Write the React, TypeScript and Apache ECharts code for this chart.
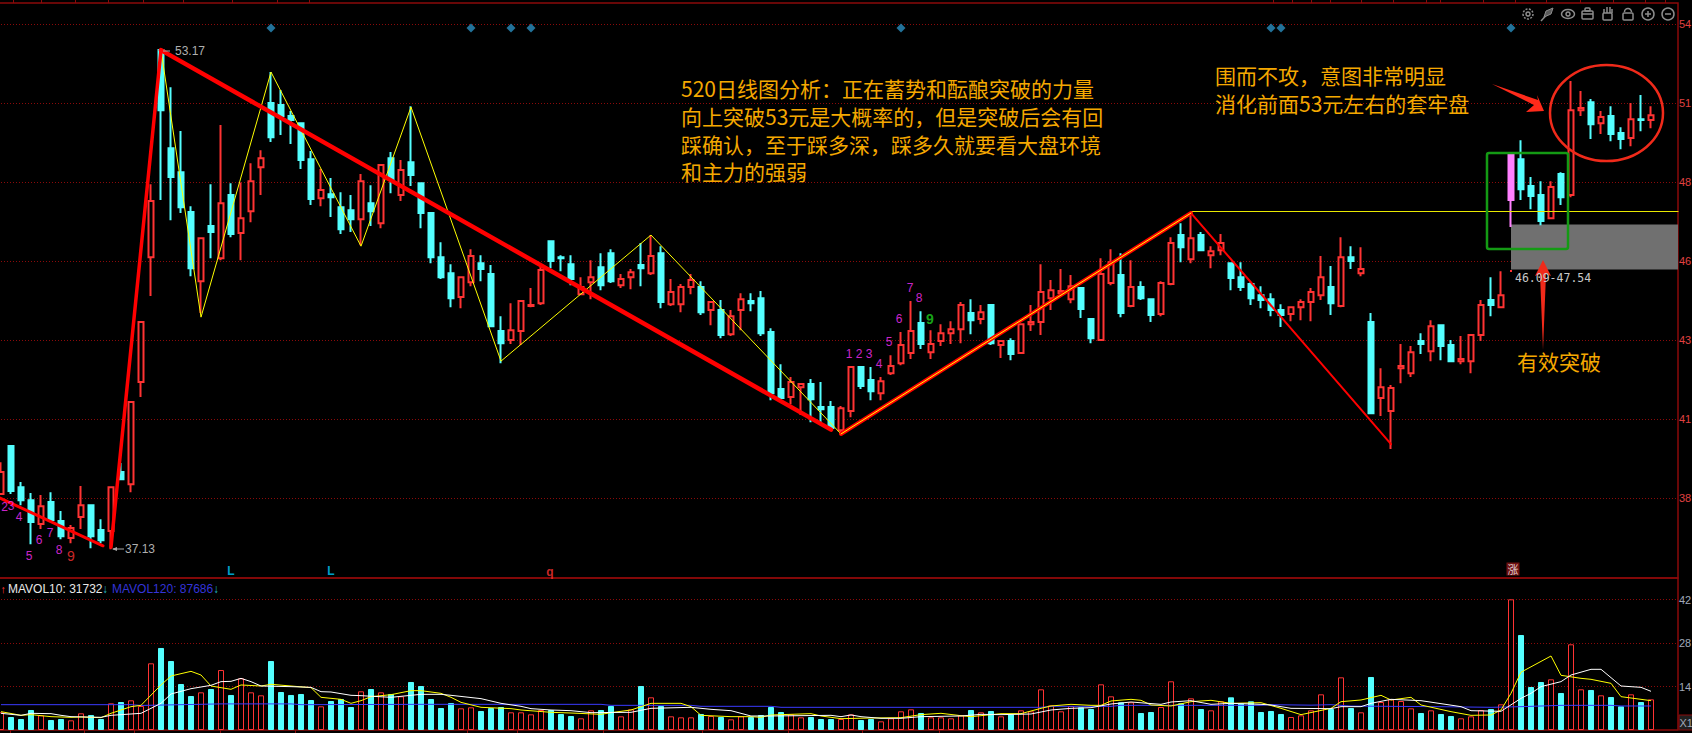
import React, { useEffect, useRef } from "react";
import * as echarts from "echarts";

// open, close, low, high per trading day
const candles: number[][] = [
  [38.84,39.55,38.84,39.87],[40.39,38.94,38.84,40.39],[39.06,38.64,38.48,39.23],[38.64,37.94,37.22,38.87],[37.87,38.45,37.71,38.81],
  [38.58,38.00,38.00,38.90],[37.97,37.48,37.38,38.29],[37.42,37.74,37.25,37.84],[38.10,38.48,37.71,39.10],[38.48,37.48,37.09,38.48],
  [37.68,37.35,37.25,38.03],[37.65,39.06,37.06,39.06],[39.55,39.32,39.29,39.84],[39.16,41.81,38.90,41.81],[42.46,44.39,41.97,44.39],
  [46.48,48.30,45.23,48.84],[53.17,51.23,48.33,53.17],[50.00,49.07,47.68,51.97],[49.23,48.10,47.91,50.56],[47.94,46.13,45.87,48.13],
  [45.71,47.10,44.68,47.10],[47.49,47.30,46.45,48.84],[46.45,48.23,46.39,50.75],[48.49,47.23,47.13,48.87],[47.27,47.74,46.39,48.90],
  [47.97,48.94,47.61,49.52],[49.39,49.68,48.49,49.94],[51.46,50.36,50.20,52.46],[51.40,51.04,50.43,51.88],[51.04,50.91,50.14,51.20],
  [50.81,49.62,49.33,50.81],[49.65,48.36,48.17,49.91],[48.39,48.65,48.13,49.33],[48.52,48.42,47.78,49.04],[48.10,47.39,47.23,48.58],
  [48.00,47.71,47.30,48.49],[47.71,48.94,46.87,49.17],[48.23,47.97,47.49,48.81],[47.58,49.46,47.42,49.46],[49.68,49.00,48.55,49.88],
  [48.49,49.30,48.30,49.62],[49.55,49.14,48.78,51.36],[48.87,47.91,47.42,48.87],[47.91,46.48,46.29,47.91],[46.48,45.84,45.78,46.97],
  [45.97,45.16,44.87,46.26],[45.20,45.84,44.84,45.84],[45.68,46.52,45.55,46.74],[46.29,46.10,45.71,46.55],[45.94,44.26,44.23,46.23],
  [44.10,43.71,43.06,44.58],[43.81,44.13,43.68,45.00],[44.10,45.07,43.65,45.07],[44.91,44.94,44.87,45.49],[45.00,46.07,44.94,46.20],
  [47.00,46.36,46.13,47.00],[46.48,46.45,46.03,46.55],[46.26,45.78,45.58,46.55],[45.29,45.52,45.29,45.84],[45.68,45.84,45.13,46.39],
  [46.16,45.58,45.42,46.61],[46.61,45.71,45.65,46.74],[45.58,45.78,45.49,45.94],[45.84,46.00,45.45,46.10],[46.23,46.13,45.55,46.94],
  [45.97,46.52,45.91,47.20],[46.61,45.04,44.84,46.84],[44.97,45.36,44.91,45.78],[44.97,45.52,44.71,45.62],[45.52,45.75,45.29,45.94],
  [45.52,44.71,44.62,45.71],[44.78,45.04,44.29,45.04],[44.78,43.97,43.87,45.10],[44.00,44.58,43.94,44.78],[44.78,45.13,44.13,45.32],
  [45.07,45.00,44.74,45.32],[45.16,44.03,43.94,45.39],[44.07,42.09,41.87,44.19],[42.23,41.94,41.94,43.03],[41.97,42.46,41.74,42.62],
  [42.29,42.39,41.39,42.39],[42.39,41.90,41.16,42.55],[41.65,41.58,41.13,42.46],[41.65,40.97,40.90,41.84],[40.90,41.61,40.80,41.68],
  [41.52,42.94,41.32,42.94],[42.94,42.33,42.23,42.94],[42.52,42.16,41.87,42.94],[42.09,42.48,41.87,42.62],[42.74,42.97,42.68,43.32],
  [43.06,43.65,43.00,44.07],[43.39,44.10,43.20,45.07],[44.36,43.68,43.52,44.74],[43.42,43.68,43.20,44.13],[43.78,44.03,43.62,44.32],
  [44.03,44.16,43.68,44.42],[44.16,44.94,43.71,45.04],[44.68,44.45,44.00,45.13],[44.49,44.71,44.32,44.94],[44.94,43.71,43.65,44.94],
  [43.65,43.78,43.23,43.78],[43.78,43.36,43.16,43.87],[43.39,44.32,43.36,44.32],[44.32,44.39,44.10,44.94],[44.39,45.36,43.97,46.26],
  [45.16,45.42,44.78,45.75],[45.32,45.39,45.26,46.10],[45.13,45.55,45.00,45.91],[45.49,44.81,44.52,45.49],[44.49,43.87,43.71,44.49],
  [43.81,45.94,43.78,46.45],[45.65,46.32,45.58,46.74],[45.91,44.68,44.55,46.61],[44.91,45.52,44.87,46.39],[45.52,45.16,45.10,45.71],
  [45.13,44.62,44.39,45.13],[44.65,45.65,44.58,45.71],[45.62,46.94,45.58,47.13],[47.20,46.81,46.32,47.58],[46.42,47.10,46.29,47.87],
  [47.20,46.71,46.68,47.30],[46.55,46.68,46.13,46.84],[46.71,46.94,46.55,47.23],[46.29,45.81,45.42,46.29],[45.84,45.52,45.39,46.32],
  [45.62,45.16,44.94,45.68],[45.26,45.10,44.84,45.55],[45.13,44.78,44.58,45.32],[44.78,44.62,44.23,44.97],[44.65,44.87,44.42,44.87],
  [44.87,45.04,44.45,45.13],[45.04,45.36,44.42,45.49],[45.26,45.84,45.10,46.52],[45.52,45.00,44.62,46.20],[44.91,46.48,44.87,47.13],
  [46.48,46.36,46.10,46.84],[45.97,46.10,45.87,46.81],[44.39,41.45,41.42,44.68],[41.94,42.29,41.36,42.90],[41.52,42.26,40.29,42.36],
  [42.90,42.97,42.42,43.68],[42.74,43.42,42.62,43.62],[43.78,43.68,43.36,44.03],[43.45,44.26,43.13,44.45],[44.29,43.62,43.16,44.29],
  [43.65,43.13,43.10,43.81],[43.13,43.20,43.03,43.94],[43.13,43.97,42.74,44.00],[43.97,44.94,43.78,45.10],[45.10,44.94,44.58,45.84],
  [44.87,45.26,44.84,46.03],[48.33,49.81,47.46,49.81],[49.65,48.68,48.33,50.26],[48.78,48.46,48.03,49.07],[48.49,47.65,47.52,48.94],
  [47.74,48.75,47.71,48.94],[49.17,48.42,48.17,49.23],[48.49,51.23,48.42,52.17],[51.23,51.30,51.04,51.85],[51.49,50.78,50.30,51.59],
  [50.81,51.01,50.46,51.20],[51.04,50.46,50.23,51.36],[50.49,50.30,49.97,50.68],[50.33,50.94,50.07,51.46],[50.94,50.91,50.55,51.72],
  [50.91,51.07,50.65,51.36],
];
const highlightDay = 151;

const volumes = [
  5.70,4.18,3.54,6.44,4.72,3.22,3.54,3.11,5.37,4.83,3.54,8.58,9.01,9.55,7.73,21.46,26.40,22.20,14.80,10.94,
  12.12,13.20,19.30,11.27,16.63,12.12,11.16,22.20,12.23,11.27,11.59,9.66,7.62,9.33,9.98,7.40,12.45,13.20,12.12,11.59,
  10.84,15.45,14.16,9.98,7.08,8.69,6.97,7.30,6.12,7.08,7.40,5.69,5.69,5.04,6.44,6.44,5.15,4.51,3.76,6.33,
  6.44,7.73,4.40,6.65,14.16,10.52,7.73,4.40,4.08,4.08,5.15,4.51,4.18,3.43,4.40,4.18,4.83,7.40,5.79,5.04,
  4.08,4.18,3.54,3.54,3.54,5.04,3.22,3.54,2.79,3.76,6.01,6.65,5.47,4.08,4.08,3.76,4.72,6.44,5.69,6.12,
  4.40,5.04,6.33,6.01,13.09,7.94,6.01,7.73,7.30,6.76,14.70,10.84,8.91,8.91,5.47,5.79,7.40,15.67,8.58,10.19,
  6.76,6.33,9.23,10.52,8.58,9.23,5.79,6.12,5.15,4.18,4.72,6.33,11.48,6.76,16.95,7.08,5.69,17.06,9.01,9.87,
  9.33,6.97,5.47,6.33,5.15,4.51,3.76,4.40,6.44,6.76,8.26,42.06,30.58,13.84,15.45,16.31,11.91,27.58,13.09,12.88,
  11.16,10.62,7.62,11.48,9.01,9.87,
];

const mavolYellow: number[][] = [
  [0,5.90],[2,4.72],[3,4.94],[5,4.29],[7,4.08],[8,4.18],[10,3.97],[11,5.37],[13,7.51],[14,7.94],[16,14.49],[17,17.38],[19,18.88],[20,17.70],[21,14.16],[23,13.09],[24,14.49],[26,14.16],[27,14.70],[29,14.16],[31,13.63],[32,10.52],[34,9.87],[35,8.58],[36,9.44],[37,10.73],[39,11.37],[41,12.66],[42,12.66],
  [44,11.80],[45,10.52],[46,8.90],[48,7.30],[51,6.87],[52,6.44],[55,5.69],[57,5.47],[60,5.04],[61,5.58],[63,6.44],[65,8.58],[68,8.58],[69,7.51],[70,4.72],[73,4.29],[75,4.29],[76,4.08],[77,4.83],[81,5.26],[82,4.51],[84,3.65],
  [87,3.86],[90,3.97],[92,4.94],[94,5.37],[96,4.61],[97,4.29],[100,5.26],[102,5.26],[104,6.97],[105,7.73],[107,8.26],[109,7.94],[110,7.94],[111,9.34],[113,9.87],[114,9.55],[115,8.05],[117,7.73],[119,9.12],[121,9.55],[123,8.58],[126,8.80],
  [128,6.97],[130,4.94],[133,6.97],[134,9.12],[136,9.66],[138,11.16],[139,9.66],[141,10.52],[142,8.05],[145,5.90],[147,4.72],[149,4.83],[150,6.44],[151,11.80],[152,18.60],[155,23.82],[156,17.60],[158,16.63],[159,16.31],[161,15.02],[162,10.73],[164,9.87],[165,9.44],
];
const mavolWhite: number[][] = [
  [0,5.37],[2,4.72],[3,5.37],[5,5.26],[6,4.72],[7,4.29],[10,4.08],[11,4.72],[14,5.37],[16,8.58],[17,11.59],[19,13.30],[21,14.38],[22,15.56],[23,15.66],[24,16.63],[25,15.56],[26,14.16],[29,13.95],[31,13.73],[32,12.34],[33,12.23],[35,11.16],[36,11.05],[39,10.52],[42,11.48],
  [44,11.48],[45,11.16],[48,10.09],[50,8.58],[52,7.62],[53,6.87],[55,6.44],[57,6.22],[59,5.58],[63,5.69],[65,6.97],[69,7.30],[71,6.65],[73,6.22],[75,4.51],[77,4.51],[83,4.72],[84,4.29],
  [85,4.83],[86,4.29],[88,3.76],[90,3.76],[92,4.29],[96,4.51],[98,5.04],[100,4.94],[103,5.15],[105,6.44],[107,6.97],[109,7.19],[111,8.37],[113,9.01],[116,8.26],[117,9.01],[119,9.44],[121,8.26],[123,8.58],[126,8.26],
  [127,8.05],[129,6.97],[133,6.87],[134,7.51],[136,7.51],[137,8.58],[139,9.87],[142,9.44],[146,7.51],[147,6.22],[150,6.01],[152,10.19],[153,11.80],[154,13.95],[156,15.56],[157,17.70],[159,19.53],[160,19.53],[162,14.16],[164,13.73],[165,12.45],
];
const mavolBlue: number[][] = [
  [0,8.15],[13,8.15],[14,7.90],[22,8.40],[29,8.40],[30,8.15],[42,8.26],[60,8.26],[61,7.94],[69,7.94],[70,7.62],[77,7.62],[78,7.30],[104,7.30],[105,7.62],[111,7.62],[112,7.94],[126,7.94],
  [127,8.15],[131,8.00],[133,8.15],[135,7.70],[144,7.50],[149,7.30],[152,7.51],[156,7.94],[161,7.94],[162,7.73],[165,7.73],
];

const trendA: number[][] = [[-0.1,38.71],[10.2,37.17]];
const trendB: number[][] = [[11,37.13],[16,53.17]];
const trendC: number[][] = [[16,53.17],[83,40.92]];
const trendD: number[][] = [[84,40.78],[119,47.91]];
const trendE: number[][] = [[119,47.91],[139,40.45]];
const breakLine: number[][] = [[119,47.96],[167.7,47.96]];
const zigzag: number[][] = [[16,53.17],[20,44.55],[27,52.46],[36,46.84],[41,51.33],[50,43.13],[65,47.20],[84,40.78],[119,47.91]];

const priceTicks = [54, 51.45, 48.9, 46.35, 43.8, 41.25, 38.7];
const volumeTicks = [14, 28, 42];
const topDateTicks = [1.2,4,7.4,10.7,14.2,18.2,23.1,27.6,30.8,127.2,129.1,131,132.9,136,139.2,142.5,143.9,148.2,151.4,154.5,157.9,161.2,164.4,166.4];
const bottomDateTicks = [0.9,8.3,13.3,21.9,29.4,46.6,51.6,60.2,70.1,78.7,86.1,93.8];

const signalDays = [27, 47, 51, 53, 90, 127, 128, 151];
const signalPrice = 53.88;
const nineTurnMagenta: [number, number, string][] = [
  [0.35,38.41,"2"],[1.0,38.45,"3"],[1.8,38.10,"4"],[2.8,36.84,"5"],[3.8,37.35,"6"],[4.9,37.58,"7"],[5.8,37.03,"8"],
  [84.8,43.36,"1"],[85.8,43.36,"2"],[86.8,43.36,"3"],[87.8,43.03,"4"],[88.8,43.74,"5"],[89.8,44.49,"6"],[90.9,45.49,"7"],[91.8,45.16,"8"],
];
const nineRed: [number, number, string][] = [[7,36.84,"9"]];
const nineGreen: [number, number, string][] = [[92.9,44.49,"9"]];
const lMarks: [number, number, string][] = [[23,36.35,"L"],[33,36.35,"L"]];
const qMarks: [number, number, string][] = [[54.9,36.32,"q"]];
const riseMarks: [number, number, string][] = [[151.2,36.42,"涨"]];

const commentLines = [
  "520日线图分析：正在蓄势和酝酿突破的力量",
  "向上突破53元是大概率的，但是突破后会有回",
  "踩确认，至于踩多深，踩多久就要看大盘环境",
  "和主力的强弱",
];
const sideLines = ["围而不攻，意图非常明显", "消化前面53元左右的套牢盘"];

const RED = "#FF3333";
const CYAN = "#54FFFF";
const FRAME = "#8B0A0A";
const GOLD = "#F5A800";
const LATIN = "'Liberation Sans', Arial, sans-serif";
const CJK = "'Noto Sans CJK SC', sans-serif";

function textSeries(rows: [number, number, string][], color: string, size: number, extra: any = {}) {
  return {
    type: "scatter",
    xAxisIndex: 0,
    yAxisIndex: 0,
    z: 8,
    symbolSize: 0,
    clip: false,
    data: rows,
    label: {
      show: true,
      position: "inside",
      formatter: (p: any) => p.value[2],
      color,
      fontSize: size,
      fontFamily: LATIN,
      ...extra,
    },
  };
}

function trend(data: number[][], color: string, width: number, z = 6, extra: any = {}) {
  return {
    type: "line",
    xAxisIndex: 0,
    yAxisIndex: 0,
    data,
    z,
    symbol: "none",
    lineStyle: { color, width, cap: "round" },
    ...extra,
  };
}

function volumeLine(data: number[][], color: string) {
  return {
    type: "line",
    xAxisIndex: 1,
    yAxisIndex: 1,
    data,
    z: 6,
    symbol: "none",
    lineStyle: { color, width: 1 },
  };
}

function icons() {
  const stroke = { stroke: "#8C8C8C", fill: "none", lineWidth: 1.5 };
  const line = (x1: number, y1: number, x2: number, y2: number) => ({ type: "line", z: 20, shape: { x1, y1, x2, y2 }, style: stroke });
  const circle = (cx: number, cy: number, r: number, dash?: number[]) => ({ type: "circle", z: 20, shape: { cx, cy, r }, style: { ...stroke, lineDash: dash } });
  const rect = (x: number, y: number, width: number, height: number) => ({ type: "rect", z: 20, shape: { x, y, width, height, r: 1 }, style: stroke });
  return [
    circle(1528, 14, 5, [2, 1.4]), circle(1528, 14, 2),
    line(1541, 21, 1552, 9),
    { type: "polygon", z: 20, shape: { points: [[1544, 17], [1546, 11], [1553, 8], [1551, 14]] }, style: { fill: "#5A5A5A", stroke: "#8C8C8C", lineWidth: 1 } },
    { type: "ellipse", z: 20, shape: { cx: 1568, cy: 14, rx: 6.5, ry: 4.5 }, style: stroke }, circle(1568, 14, 2),
    rect(1582, 11, 11, 8), rect(1585, 8, 5, 3), line(1582, 14, 1593, 14),
    rect(1603, 13, 9, 7), line(1604, 13, 1604, 9), line(1607, 13, 1607, 7), line(1610, 13, 1610, 7), line(1612, 13, 1612, 9),
    rect(1623, 13, 10, 7), { type: "arc", z: 20, shape: { cx: 1628, cy: 12, r: 3.5, startAngle: Math.PI, endAngle: Math.PI * 2 }, style: stroke },
    circle(1648, 14, 6), line(1645, 14, 1651, 14), line(1648, 11, 1648, 17),
    circle(1668, 14, 6), line(1665, 14, 1671, 14),
  ];
}

export default function App() {
  const ref = useRef<HTMLDivElement>(null);
  useEffect(() => {
    document.body.style.margin = "0";
    document.body.style.background = "#000";
    const chart = echarts.init(ref.current!, undefined, { renderer: "svg" });

    const candleData = candles.map((c, i) =>
      i === highlightDay
        ? { value: [i, ...c], itemStyle: { color: "#FF80FF", borderColor: "#FF80FF" } }
        : { value: [i, ...c] }
    );
    const volumeData = volumes.map((v, i) => {
      const up = candles[i][1] > candles[i][0];
      return {
        value: [i, v],
        itemStyle: up
          ? { color: "#000", borderColor: RED, borderWidth: 1 }
          : { color: CYAN, borderColor: CYAN, borderWidth: 1 },
      };
    });

    const xBase = {
      type: "value",
      min: -0.3,
      max: 167.7,
      splitLine: { show: false },
      axisLabel: { show: false },
      axisLine: { show: false },
    };

    chart.setOption({
      animation: false,
      backgroundColor: "#000",
      grid: [
        { left: -2, top: 3, width: 1680, height: 575, show: true, borderColor: FRAME, borderWidth: 1.5, backgroundColor: "transparent", containLabel: false, outerBoundsMode: "none" },
        { left: -2, top: 578, width: 1680, height: 152, show: true, borderColor: FRAME, borderWidth: 1.5, backgroundColor: "transparent", containLabel: false, outerBoundsMode: "none" },
      ],
      xAxis: [
        { ...xBase, gridIndex: 0, position: "top", axisTick: { show: true, inside: false, length: 3, customValues: topDateTicks, lineStyle: { color: FRAME, width: 1 } } },
        { ...xBase, gridIndex: 1, position: "bottom", axisTick: { show: true, inside: false, length: 3, customValues: bottomDateTicks, lineStyle: { color: FRAME, width: 1 } } },
      ],
      yAxis: [
        {
          type: "value",
          gridIndex: 0,
          position: "right",
          min: 36.13,
          max: 54.69,
          axisLine: { show: false },
          axisTick: { show: false, customValues: priceTicks },
          splitLine: { show: true, lineStyle: { color: "#8B0A0A", width: 1, type: [1, 2] } },
          axisLabel: {
            customValues: priceTicks,
            margin: 1,
            color: "#E04040",
            fontSize: 11,
            fontFamily: LATIN,
            formatter: (v: number) => String(Math.floor(v)),
          },
        },
        {
          type: "value",
          gridIndex: 1,
          position: "right",
          min: 0,
          max: 48.92,
          axisLine: { show: false },
          axisTick: { show: false, customValues: volumeTicks },
          splitLine: { show: true, lineStyle: { color: "#8B0A0A", width: 1, type: [1, 2] } },
          axisLabel: {
            customValues: volumeTicks,
            margin: 1,
            color: "#A0A8B8",
            fontSize: 11,
            fontFamily: LATIN,
            formatter: (v: number) => String(v),
          },
        },
      ],
      series: [
        {
          type: "candlestick",
          xAxisIndex: 0,
          yAxisIndex: 0,
          z: 3,
          barWidth: 6,
          data: candleData,
          itemStyle: {
            color: "#000",
            color0: CYAN,
            borderColor: RED,
            borderColor0: CYAN,
            borderColorDoji: RED,
            borderWidth: 2,
          },
        },
        {
          type: "bar",
          xAxisIndex: 1,
          yAxisIndex: 1,
          barWidth: 6,
          z: 3,
          data: volumeData,
        },
        volumeLine(mavolBlue, "#3A3AFF"),
        volumeLine(mavolYellow, "#FFFF00"),
        volumeLine(mavolWhite, "#FFFFFF"),
        trend(zigzag, "#FFFF00", 1, 5),
        trend(trendA, "#FF0000", 3),
        trend(trendB, "#FF0000", 3.5),
        trend(trendC, "#FF0000", 4.5),
        trend(trendD, "#FF0000", 4),
        trend(trendE, "#FF0000", 2),
        trend(trendD, "#FFFF00", 1, 7),
        trend(breakLine, "#E8E800", 1.2, 5, {
          markArea: {
            silent: true,
            itemStyle: { color: "#707070" },
            data: [[{ xAxis: 151, yAxis: 46.09 }, { xAxis: 167.7, yAxis: 47.54 }]],
          },
        }),
        {
          type: "scatter",
          xAxisIndex: 0,
          yAxisIndex: 0,
          z: 8,
          symbol: "diamond",
          symbolSize: 9,
          itemStyle: { color: "#2A8FC0" },
          data: signalDays.map((d) => [d, signalPrice]),
        },
        textSeries(nineTurnMagenta, "#FF30FF", 12),
        textSeries(nineRed, "#FF3333", 14),
        textSeries(nineGreen, "#1FD01F", 14, { fontWeight: "bold" }),
        textSeries(lMarks, "#00C8FF", 12, { fontWeight: "bold" }),
        textSeries(qMarks, "#FF3333", 12, { fontWeight: "bold" }),
        textSeries(riseMarks, "#FFFFFF", 11, { backgroundColor: "#8B1515", padding: [1, 1], fontFamily: CJK }),
      ],
      graphic: [
        ...commentLines.map((t, i) => ({
          type: "text", z: 30, x: 681, y: 88 + i * 27.8,
          style: { text: t, fill: GOLD, font: `21px ${CJK}`, textVerticalAlign: "middle" },
        })),
        ...sideLines.map((t, i) => ({
          type: "text", z: 30, x: 1215, y: 75 + i * 28,
          style: { text: t, fill: GOLD, font: `21px ${CJK}`, textVerticalAlign: "middle" },
        })),
        { type: "text", z: 30, x: 1517, y: 361, style: { text: "有效突破", fill: GOLD, font: `21px ${CJK}`, textVerticalAlign: "middle" } },
        // annotations drawn by the analyst
        { type: "rect", z: 25, shape: { x: 1487, y: 153, width: 81, height: 96, r: 2 }, style: { fill: "none", stroke: "#149A14", lineWidth: 2.5 } },
        { type: "ellipse", z: 25, shape: { cx: 1606.5, cy: 113, rx: 56.5, ry: 48 }, style: { fill: "none", stroke: "#F02A1A", lineWidth: 2.5 } },
        { type: "polygon", z: 25, shape: { points: [[1492, 84], [1538, 100], [1537, 95], [1544, 111], [1526, 112], [1534, 105]] }, style: { fill: "#FF2A1A" } },
        { type: "polygon", z: 25, shape: { points: [[1543, 350], [1540, 274], [1535, 276], [1543, 260], [1551, 276], [1546, 274]] }, style: { fill: "#F02A1A" } },
        // value notes
        { type: "line", z: 25, shape: { x1: 163, y1: 51, x2: 170, y2: 51 }, style: { stroke: "#A8A8A8", lineWidth: 1 } },
        { type: "text", z: 25, x: 175, y: 51, style: { text: "53.17", fill: "#AFAFAF", font: `12px ${LATIN}`, textVerticalAlign: "middle" } },
        { type: "line", z: 25, shape: { x1: 113, y1: 549, x2: 124, y2: 549 }, style: { stroke: "#A8A8A8", lineWidth: 1 } },
        { type: "polygon", z: 25, shape: { points: [[112, 549], [117, 547], [117, 551]] }, style: { fill: "#A8A8A8" } },
        { type: "text", z: 25, x: 125, y: 549, style: { text: "37.13", fill: "#AFAFAF", font: `12px ${LATIN}`, textVerticalAlign: "middle" } },
        { type: "text", z: 25, x: 1515, y: 278, style: { text: "46.09-47.54", fill: "#C8C8C8", font: "11.5px 'DejaVu Sans Mono', monospace", textVerticalAlign: "middle" } },
        { type: "rect", z: 25, shape: { x: 1510, y: 270, width: 2, height: 2 }, style: { fill: "#FF3333" } },
        // volume legend
        { type: "text", z: 25, x: 0.5, y: 589, style: { text: "↑", fill: "#FF3333", font: `11px ${LATIN}`, textVerticalAlign: "middle" } },
        { type: "text", z: 25, x: 8, y: 589, style: { text: "MAVOL10: 31732", fill: "#E8E8E8", font: `12px ${LATIN}`, textVerticalAlign: "middle" } },
        { type: "text", z: 25, x: 102, y: 589, style: { text: "↓", fill: "#22B8C8", font: `12px ${LATIN}`, textVerticalAlign: "middle" } },
        { type: "text", z: 25, x: 112, y: 589, style: { text: "MAVOL120: 87686", fill: "#3434D8", font: `12px ${LATIN}`, textVerticalAlign: "middle" } },
        { type: "text", z: 25, x: 213, y: 589, style: { text: "↓", fill: "#22B8C8", font: `12px ${LATIN}`, textVerticalAlign: "middle" } },
        // scale mode box
        { type: "rect", z: 25, shape: { x: 1679, y: 715, width: 14, height: 15 }, style: { fill: "#202020", stroke: FRAME, lineWidth: 1 } },
        { type: "text", z: 26, x: 1679.5, y: 723, style: { text: "X1", fill: "#A0A8B8", font: `11px ${LATIN}`, textVerticalAlign: "middle" } },
        ...icons(),
      ],
    });
    return () => chart.dispose();
  }, []);
  return <div ref={ref} style={{ width: 1692, height: 733 }} />;
}
